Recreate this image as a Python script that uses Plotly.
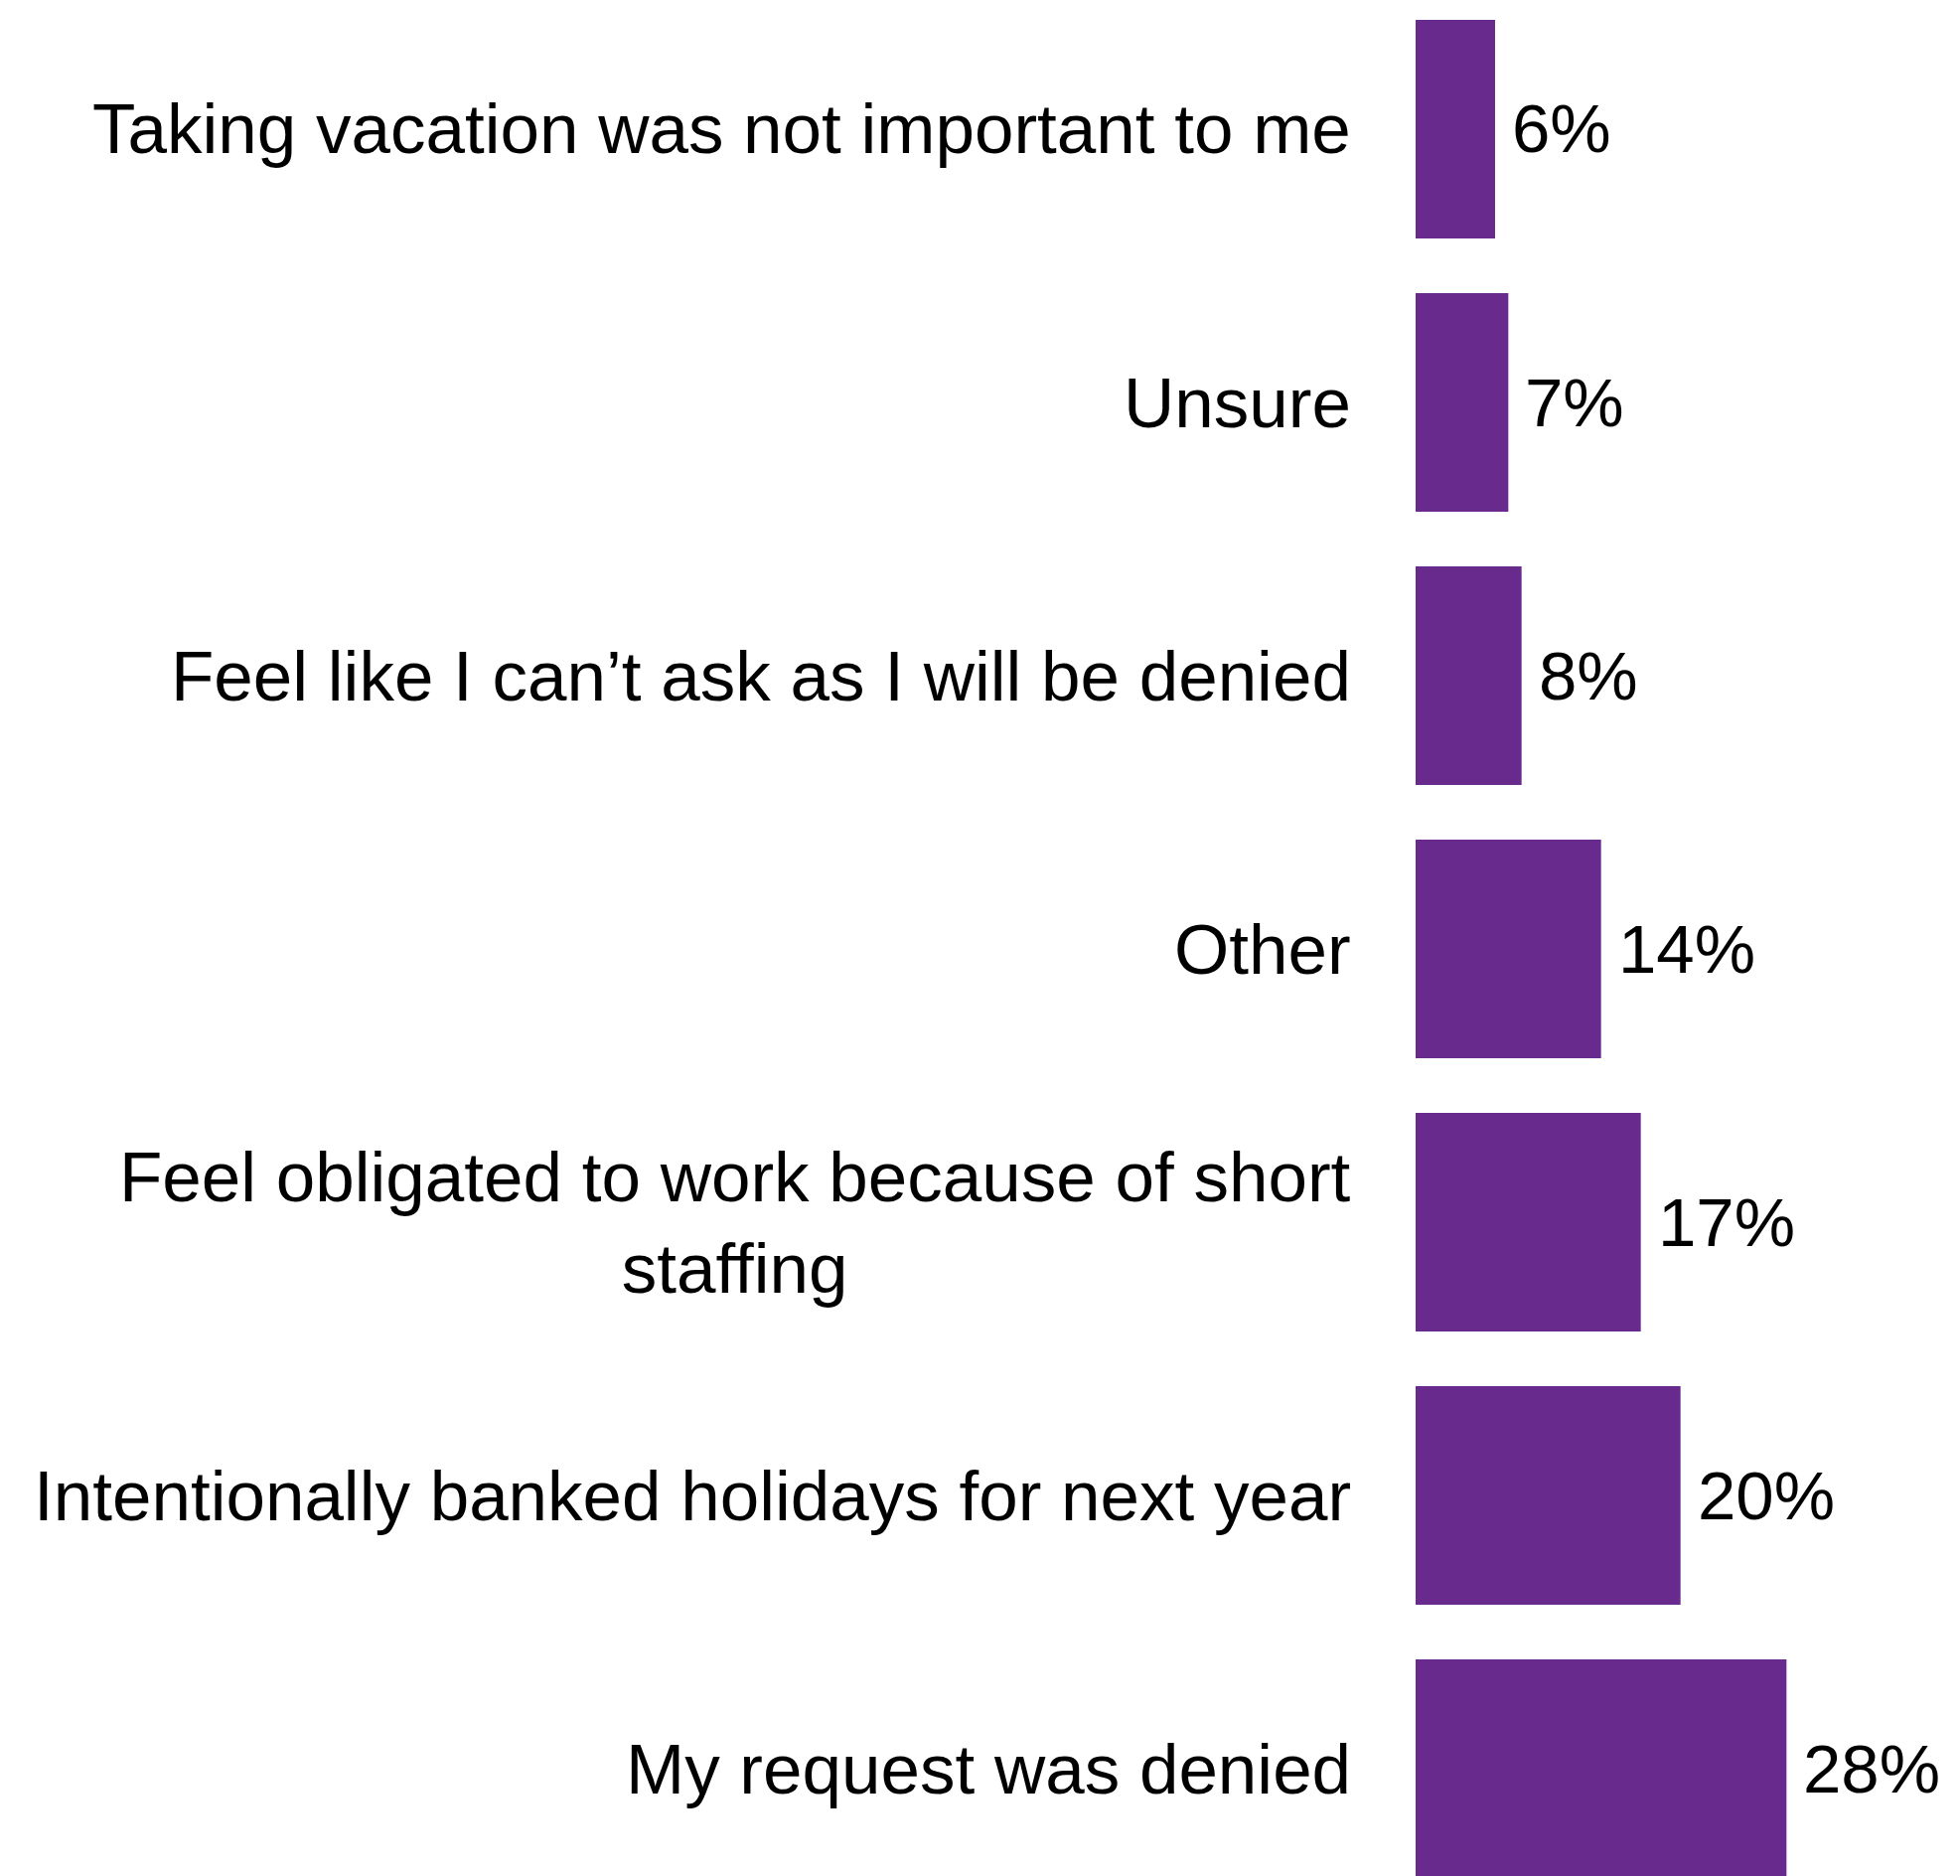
import plotly.graph_objects as go

# Reasons for not taking vacation, listed bottom to top
categories = [
    "My request was denied",
    "Intentionally banked holidays for next year",
    "Feel obligated to work because of short<br>staffing",
    "Other",
    "Feel like I can’t ask as I will be denied",
    "Unsure",
    "Taking vacation was not important to me",
]
values = [28, 20, 17, 14, 8, 7, 6]
value_labels = [f"{v}%" for v in values]

BAR_COLOR = "#682a8d"
FONT = "Liberation Sans, Arial, sans-serif"

fig = go.Figure(
    go.Bar(
        x=values,
        y=categories,
        orientation="h",
        marker=dict(color=BAR_COLOR, line=dict(width=0)),
        hoverinfo="skip",
    )
)

annotations = []
# Category labels, right-aligned to the left of the bars
for cat in categories:
    annotations.append(dict(
        x=0, y=cat, xref="x", yref="y",
        text=cat, showarrow=False,
        xanchor="right", yanchor="middle", align="center",
        xshift=-63,
        font=dict(family=FONT, size=71, color="#000000"),
    ))
# Percentage labels just past the end of each bar
for cat, v, lab in zip(categories, values, value_labels):
    annotations.append(dict(
        x=v, y=cat, xref="x", yref="y",
        text=lab, showarrow=False,
        xanchor="left", yanchor="middle",
        xshift=15,
        font=dict(family=FONT, size=69, color="#000000"),
    ))

fig.update_layout(
    width=1973,
    height=1888,
    margin=dict(l=1425, r=0, t=0, b=0),
    paper_bgcolor="white",
    plot_bgcolor="white",
    bargap=0.2,
    showlegend=False,
    annotations=annotations,
    xaxis=dict(
        range=[0, 41.1],
        showgrid=False, zeroline=False, showline=False,
        showticklabels=False, ticks="",
    ),
    yaxis=dict(
        type="category",
        categoryorder="array",
        categoryarray=categories,
        range=[-0.3927, 6.4727],
        showgrid=False, zeroline=False, showline=False,
        showticklabels=False, ticks="",
    ),
)

fig.write_html("out.html")
